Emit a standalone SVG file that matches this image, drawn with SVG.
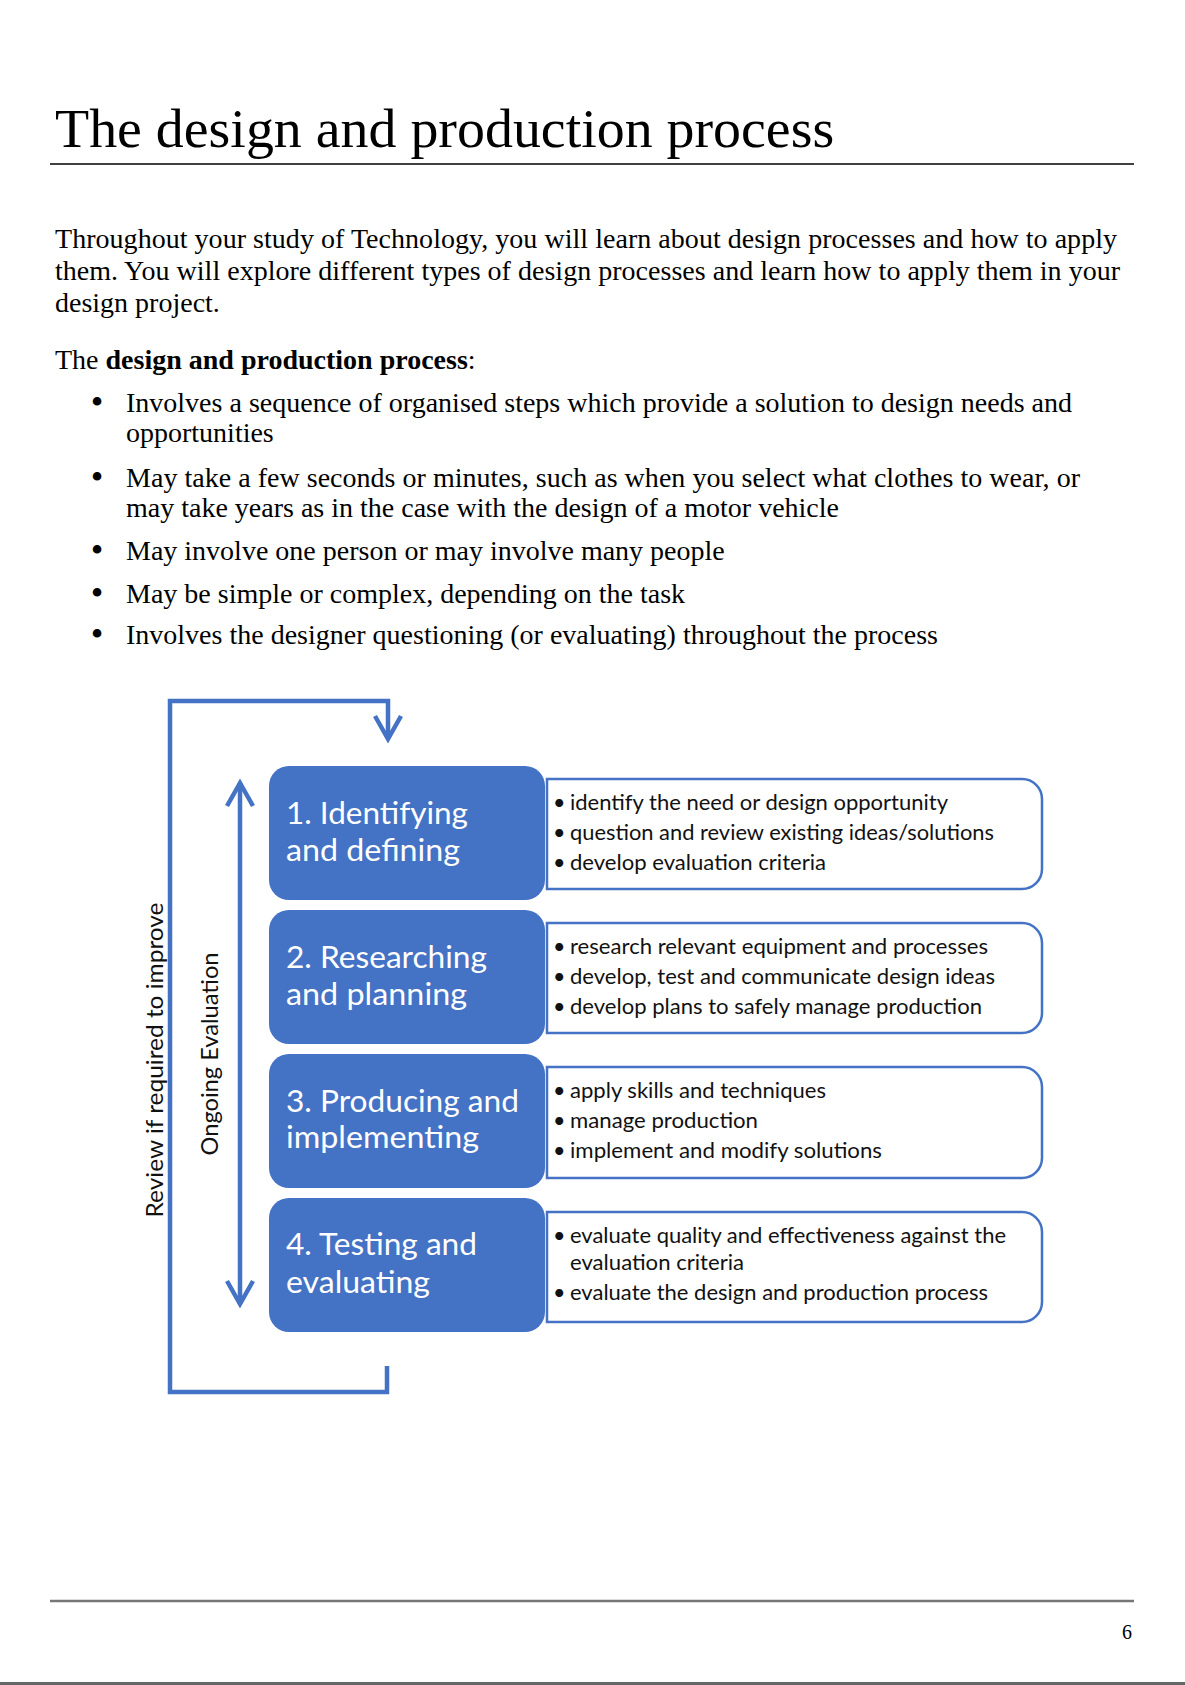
<svg xmlns="http://www.w3.org/2000/svg" width="1185" height="1685" viewBox="0 0 1185 1685">
<style>
.body{font-family:"Liberation Serif","Times New Roman",serif;font-size:28px;fill:#000}
.title{font-size:55.9px}
.b{font-weight:bold}
.dot{font-size:36px}
.step{fill:#4472C4}
.steptext{font-family:Lato,"Open Sans",sans-serif;font-size:31px;fill:#fff}
.detail{fill:#fff;stroke:#4472C4;stroke-width:2.5}
.dtext{font-family:Lato,"Open Sans",sans-serif;font-size:21.5px;fill:#111}
.side{font-family:Lato,"Open Sans",sans-serif;font-size:24px;fill:#111}
.conn{fill:none;stroke:#4472C4;stroke-width:4.5;stroke-linejoin:miter}
</style>
<defs>
<marker id="chev" markerUnits="userSpaceOnUse" markerWidth="40" markerHeight="40" viewBox="-30 -20 40 40" refX="0" refY="0" orient="auto-start-reverse">
<path d="M-23,-13 L0,0 L-23,13" fill="none" stroke="#4472C4" stroke-width="4.5" stroke-linejoin="miter"/>
</marker>
</defs>
<rect x="0" y="0" width="1185" height="1685" fill="#fff"/>

<g id="page-text">
<text class="body title" x="55" y="147">The design and production process</text>
<line x1="50" y1="164" x2="1134" y2="164" stroke="#000" stroke-width="1.5"/>
<text class="body" x="55" y="248" textLength="1062" lengthAdjust="spacing">Throughout your study of Technology, you will learn about design processes and how to apply</text>
<text class="body" x="55" y="280" textLength="1065" lengthAdjust="spacing">them. You will explore different types of design processes and learn how to apply them in your</text>
<text class="body" x="55" y="312">design project.</text>
<text class="body" x="55" y="369">The <tspan class="b">design and production process</tspan>:</text>
<g text-anchor="middle">
<text class="body dot" x="97" y="414">•</text>
<text class="body dot" x="97" y="489">•</text>
<text class="body dot" x="97" y="562">•</text>
<text class="body dot" x="97" y="605">•</text>
<text class="body dot" x="97" y="646">•</text>
</g>
<text class="body" x="126" y="412" textLength="946" lengthAdjust="spacing">Involves a sequence of organised steps which provide a solution to design needs and</text>
<text class="body" x="126" y="442">opportunities</text>
<text class="body" x="126" y="487" textLength="954" lengthAdjust="spacing">May take a few seconds or minutes, such as when you select what clothes to wear, or</text>
<text class="body" x="126" y="517">may take years as in the case with the design of a motor vehicle</text>
<text class="body" x="126" y="560">May involve one person or may involve many people</text>
<text class="body" x="126" y="603">May be simple or complex, depending on the task</text>
<text class="body" x="126" y="644" textLength="812" lengthAdjust="spacing">Involves the designer questioning (or evaluating) throughout the process</text>
<line x1="50" y1="1601" x2="1134" y2="1601" stroke="#777" stroke-width="2.5"/>
<text class="body" x="1127" y="1639" text-anchor="middle" style="font-size:19.9px">6</text>
<rect x="0" y="1682" width="1185" height="3" fill="#666"/>
</g>

<g id="connectors">
<path id="review-loop" class="conn" d="M387,1366 V1392 H170 V701 H388 V739" marker-end="url(#chev)"/>
<path id="ongoing-arrow" class="conn" d="M240,783 V1304" marker-start="url(#chev)" marker-end="url(#chev)"/>
</g>

<g id="label-review">
<text class="side" transform="translate(163,1060) rotate(-90)" text-anchor="middle" textLength="315" lengthAdjust="spacingAndGlyphs">Review if required to improve</text>
</g>
<g id="label-ongoing">
<text class="side" transform="translate(218,1054) rotate(-90)" text-anchor="middle" textLength="203" lengthAdjust="spacingAndGlyphs">Ongoing Evaluation</text>
</g>

<g id="step1">
<rect class="step" x="269" y="766" width="276" height="134" rx="20"/>
<text class="steptext" x="286" y="824" textLength="182" lengthAdjust="spacingAndGlyphs">1. Identifying</text>
<text class="steptext" x="286" y="861" textLength="174" lengthAdjust="spacingAndGlyphs">and defining</text>
</g>
<g id="detail1">
<path class="detail" d="M547,779 H1022 A20,20 0 0 1 1042,799 V869 A20,20 0 0 1 1022,889 H547 Z"/>
<text class="dtext" x="553" y="810">•</text><text class="dtext" x="570" y="810" textLength="378" lengthAdjust="spacingAndGlyphs">identify the need or design opportunity</text>
<text class="dtext" x="553" y="840">•</text><text class="dtext" x="570" y="840" textLength="424" lengthAdjust="spacingAndGlyphs">question and review existing ideas/solutions</text>
<text class="dtext" x="553" y="870">•</text><text class="dtext" x="570" y="870" textLength="256" lengthAdjust="spacingAndGlyphs">develop evaluation criteria</text>
</g>

<g id="step2">
<rect class="step" x="269" y="910" width="276" height="134" rx="20"/>
<text class="steptext" x="286" y="968" textLength="201" lengthAdjust="spacingAndGlyphs">2. Researching</text>
<text class="steptext" x="286" y="1005" textLength="181" lengthAdjust="spacingAndGlyphs">and planning</text>
</g>
<g id="detail2">
<path class="detail" d="M547,923 H1022 A20,20 0 0 1 1042,943 V1013 A20,20 0 0 1 1022,1033 H547 Z"/>
<text class="dtext" x="553" y="954">•</text><text class="dtext" x="570" y="954" textLength="418" lengthAdjust="spacingAndGlyphs">research relevant equipment and processes</text>
<text class="dtext" x="553" y="984">•</text><text class="dtext" x="570" y="984" textLength="425" lengthAdjust="spacingAndGlyphs">develop, test and communicate design ideas</text>
<text class="dtext" x="553" y="1014">•</text><text class="dtext" x="570" y="1014" textLength="412" lengthAdjust="spacingAndGlyphs">develop plans to safely manage production</text>
</g>

<g id="step3">
<rect class="step" x="269" y="1054" width="276" height="134" rx="20"/>
<text class="steptext" x="286" y="1112" textLength="233" lengthAdjust="spacingAndGlyphs">3. Producing and</text>
<text class="steptext" x="286" y="1148" textLength="193" lengthAdjust="spacingAndGlyphs">implementing</text>
</g>
<g id="detail3">
<path class="detail" d="M547,1067 H1022 A20,20 0 0 1 1042,1087 V1158 A20,20 0 0 1 1022,1178 H547 Z"/>
<text class="dtext" x="553" y="1098">•</text><text class="dtext" x="570" y="1098" textLength="256" lengthAdjust="spacingAndGlyphs">apply skills and techniques</text>
<text class="dtext" x="553" y="1128">•</text><text class="dtext" x="570" y="1128" textLength="188" lengthAdjust="spacingAndGlyphs">manage production</text>
<text class="dtext" x="553" y="1158">•</text><text class="dtext" x="570" y="1158" textLength="312" lengthAdjust="spacingAndGlyphs">implement and modify solutions</text>
</g>

<g id="step4">
<rect class="step" x="269" y="1198" width="276" height="134" rx="20"/>
<text class="steptext" x="286" y="1255" textLength="191" lengthAdjust="spacingAndGlyphs">4. Testing and</text>
<text class="steptext" x="286" y="1293" textLength="144" lengthAdjust="spacingAndGlyphs">evaluating</text>
</g>
<g id="detail4">
<path class="detail" d="M547,1212 H1022 A20,20 0 0 1 1042,1232 V1302 A20,20 0 0 1 1022,1322 H547 Z"/>
<text class="dtext" x="553" y="1243">•</text><text class="dtext" x="570" y="1243" textLength="436" lengthAdjust="spacingAndGlyphs">evaluate quality and effectiveness against the</text>
<text class="dtext" x="570" y="1270" textLength="174" lengthAdjust="spacingAndGlyphs">evaluation criteria</text>
<text class="dtext" x="553" y="1300">•</text><text class="dtext" x="570" y="1300" textLength="418" lengthAdjust="spacingAndGlyphs">evaluate the design and production process</text>
</g>
</svg>
